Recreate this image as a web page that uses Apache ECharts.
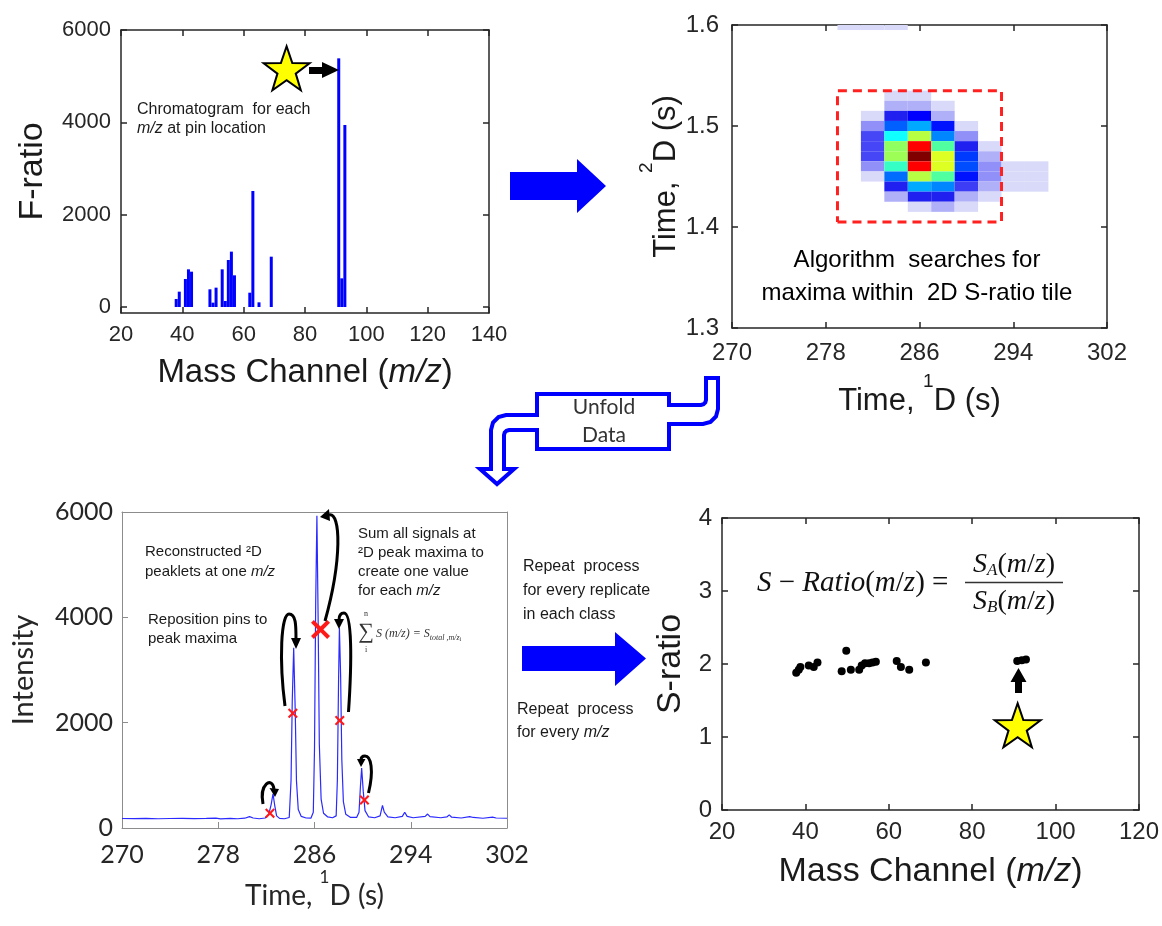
<!DOCTYPE html>
<html>
<head>
<meta charset="utf-8">
<script src="https://cdn.jsdelivr.net/npm/echarts@6/dist/echarts.min.js"></script>
<style>html,body{margin:0;padding:0;background:#fff}#main{width:1162px;height:926px}</style>
</head>
<body>
<div id="main"></div>
<script>
// --- data ---
// top left: F-ratio per mass channel
var fMz    = [38, 39, 41, 42, 43, 49, 50, 51, 53, 54, 55, 56, 57, 62, 63, 65, 69, 91, 92, 93];
var fRatio = [173, 332, 606, 816, 765, 383, 94, 419, 816, 130, 1018, 1199, 686, 310, 2513, 101, 1090, 5386, 621, 3942];
var starTop = [74, 5170];

// top right: 2D S-ratio tile (0 = empty cell)
var heatCols = [280, 282, 284, 286, 288, 290, 292, 294, 296];
var heatRows = [1.60, 1.53, 1.52, 1.51, 1.50, 1.49, 1.48, 1.47, 1.46, 1.45, 1.44, 1.43, 1.42];
var heatVals = [
  [0.03, 0.03, 0.03, 0,    0,    0,    0,    0,    0   ],
  [0,    0,    0.03, 0.03, 0,    0,    0,    0,    0   ],
  [0,    0,    0.10, 0.10, 0.03, 0,    0,    0,    0   ],
  [0,    0.03, 0.25, 0.30, 0.10, 0,    0,    0,    0   ],
  [0,    0.14, 0.35, 0.41, 0.31, 0.03, 0,    0,    0   ],
  [0,    0.21, 0.50, 0.63, 0.38, 0.14, 0,    0,    0   ],
  [0,    0.21, 0.60, 0.90, 0.55, 0.25, 0.03, 0,    0   ],
  [0,    0.21, 0.61, 1.00, 0.67, 0.33, 0.10, 0,    0   ],
  [0,    0.14, 0.53, 0.90, 0.67, 0.34, 0.14, 0.03, 0.03],
  [0,    0.03, 0.36, 0.63, 0.55, 0.31, 0.14, 0.03, 0.03],
  [0,    0,    0.25, 0.41, 0.38, 0.22, 0.10, 0.03, 0.03],
  [0,    0,    0.10, 0.25, 0.25, 0.10, 0.03, 0,    0   ],
  [0,    0,    0,    0.03, 0.10, 0.03, 0,    0,    0   ]
];
var tileT = [279, 293];
var tileTau = [1.405, 1.535];

// bottom left: unfolded trace at one m/z
var trace = [
  [270,180],[271,178],[272,182],[273,176],[274,180],[275,183],[276,178],[277,182],[277.8,186],[278.2,175],
  [279,182],[279.6,176],[280.2,186],[280.6,215],[280.9,190],[281.4,176],[281.9,190],[282.2,260],[282.4,450],
  [282.55,650],[282.7,420],[282.85,230],[283.1,182],[283.5,176],[283.9,200],[284.05,900],[284.15,2400],
  [284.27,3420],[284.4,2200],[284.5,900],[284.65,350],[284.9,220],[285.3,190],[285.7,186],[285.9,300],
  [286.0,1500],[286.1,4300],[286.2,5930],[286.3,4000],[286.4,1600],[286.55,550],[286.75,280],[287.1,210],
  [287.5,195],[287.8,230],[287.9,900],[288.0,2800],[288.07,3800],[288.17,2900],[288.27,1300],[288.4,500],
  [288.6,260],[289.0,200],[289.5,200],[289.7,300],[289.82,800],[289.92,1140],[290.05,700],[290.2,330],
  [290.5,210],[291.0,195],[291.45,230],[291.65,430],[291.8,300],[292.1,210],[292.7,195],[293.3,220],
  [293.5,300],[293.7,220],[294.2,195],[295.2,220],[295.4,265],[295.6,215],[296.5,195],[297.0,210],
  [297.2,250],[297.4,205],[298.2,190],[298.9,215],[299.05,235],[299.2,200],[300.0,185],[300.8,205],
  [300.9,220],[301.1,190],[302,185]
];
var pinT = [282.3, 284.2, 288.1, 290.15];
var pinI = [280, 2180, 2040, 530];
var maxPin = [286.5, 3770];

// bottom right: S-ratio per mass channel
var srMz  = [37.8, 38.4, 38.8, 40.8, 42.0, 42.9, 48.7, 49.8, 50.9, 52.9, 53.5, 54.3, 55.3, 56.1, 56.9, 61.9, 62.9, 64.9, 68.9, 90.8, 91.9, 92.9];
var srVal = [1.88, 1.92, 1.96, 1.98, 1.96, 2.02, 1.90, 2.18, 1.92, 1.92, 1.98, 2.01, 2.01, 2.02, 2.03, 2.04, 1.96, 1.92, 2.02, 2.04, 2.05, 2.06];
var starBottom = [90.9, 1.16];

// tick labels
var tlXTicks = [20, 40, 60, 80, 100, 120, 140];
var tlYTicks = [0, 2000, 4000, 6000];
var trXTicks = [270, 278, 286, 294, 302];
var trYTicks = [1.3, 1.4, 1.5, 1.6];
var blXTicks = [270, 278, 286, 294, 302];
var blYTicks = [0, 2000, 4000, 6000];
var brXTicks = [20, 40, 60, 80, 100, 120];
var brYTicks = [0, 1, 2, 3, 4];

var ARIAL = "'Liberation Sans', Arial, sans-serif";
var CAL = "Lato, 'Open Sans', sans-serif";
var SERIF = "'Liberation Serif', 'DejaVu Serif', serif";
var INK = '#262626';

var STAR = 'path://M50,2L61.8,36.2L97.6,36.6L68.9,58.1L79.4,92.4L50,71.8L20.6,92.4L31.1,58.1L2.4,36.6L38.2,36.2Z';
var CROSS = 'path://M0,3L3,0L10,7L17,0L20,3L13,10L20,17L17,20L10,13L3,20L0,17L7,10Z';

function plain(v) { return String(v); }

function ax(grid, pos, min, max, vals, o) {
  o = o || {};
  var col = o.color || INK;
  var lw = o.lw || 1.5;
  return {
    type: 'value', gridIndex: grid, position: pos, min: min, max: max,
    axisLine: { show: true, onZero: false, lineStyle: { color: col, width: lw } },
    axisTick: { show: o.ticks !== false, inside: true, length: 6, customValues: vals, lineStyle: { color: col, width: lw } },
    axisLabel: { show: !!o.label, customValues: vals, margin: o.margin || 10, color: INK,
      fontFamily: o.font || ARIAL, fontSize: o.size || 22, formatter: o.fmt || plain, showMinLabel: true, showMaxLabel: true },
    splitLine: { show: false },
    name: o.name || '', nameLocation: 'middle', nameGap: o.gap || 0, nameTextStyle: o.nts || {}
  };
}

function supName(font, size, color) {
  return {
    fontFamily: font, fontSize: size, color: color,
    rich: {
      m: { fontFamily: font, fontSize: size, color: color, lineHeight: size * 1.45, verticalAlign: 'bottom' },
      s: { fontFamily: font, fontSize: Math.round(size * 0.62), color: color, lineHeight: Math.round(size * 0.62), verticalAlign: 'top' }
    }
  };
}
function mzName(size) {
  return {
    fontFamily: ARIAL, fontSize: size, color: '#1a1a1a',
    rich: {
      a: { fontFamily: ARIAL, fontSize: size, color: '#1a1a1a' },
      i: { fontFamily: ARIAL, fontSize: size, color: '#1a1a1a', fontStyle: 'italic' }
    }
  };
}

function txt(x, y, text, size, o) {
  o = o || {};
  var st = {
    text: text, fontSize: size, fontFamily: o.font || ARIAL, fill: o.fill || '#1a1a1a',
    fontStyle: o.italic ? 'italic' : 'normal',
    align: o.align || 'left', textAlign: o.align || 'left',
    verticalAlign: 'middle', textVerticalAlign: 'middle'
  };
  if (o.rich) st.rich = o.rich;
  return { type: 'text', x: x, y: y, z: 100, style: st };
}

function curve(x1, y1, c1x, c1y, c2x, c2y, x2, y2) {
  return { type: 'bezierCurve', z: 100,
    shape: { x1: x1, y1: y1, cpx1: c1x, cpy1: c1y, cpx2: c2x, cpy2: c2y, x2: x2, y2: y2 },
    style: { stroke: '#000', lineWidth: 3, fill: null } };
}
function poly(points, fill, stroke, lw) {
  return { type: 'polygon', z: 100, shape: { points: points },
    style: { fill: fill, stroke: stroke || null, lineWidth: lw || 0 } };
}

// heat cells
var heatData = [];
heatRows.forEach(function (tau, r) {
  heatCols.forEach(function (t, c) {
    if (heatVals[r][c] > 0) heatData.push([t, tau, heatVals[r][c]]);
  });
});

var mzRich = function (s) {
  return {
    a: { fontFamily: ARIAL, fontSize: s, fill: '#1a1a1a' },
    i: { fontFamily: ARIAL, fontSize: s, fill: '#1a1a1a', fontStyle: 'italic' }
  };
};
var mathRich = function (s) {
  return {
    i: { fontFamily: SERIF, fontSize: s, fontStyle: 'italic', fill: '#111' },
    r: { fontFamily: SERIF, fontSize: s, fill: '#111' },
    b: { fontFamily: SERIF, fontSize: Math.round(s * 0.62), fontStyle: 'italic', fill: '#111', verticalAlign: 'bottom', lineHeight: s }
  };
};

var chart = echarts.init(document.getElementById('main'));
var option = {
  animation: false,
  backgroundColor: '#ffffff',
  grid: [
    { left: 121, top: 30, width: 368, height: 283 },
    { left: 732, top: 25, width: 375, height: 303 },
    { left: 122, top: 512, width: 385, height: 316 },
    { left: 722, top: 518, width: 418, height: 292 }
  ],
  xAxis: [
    ax(0, 'bottom', 20, 140, tlXTicks, { label: true, size: 22, margin: 11, gap: 43,
      name: '{a|Mass Channel (}{i|m/z}{a|)}', nts: mzName(33) }),
    ax(0, 'top', 20, 140, tlXTicks),
    ax(1, 'bottom', 270, 302, trXTicks, { label: true, size: 24, margin: 13, gap: 44,
      name: '{m|Time, }{s|1}{m|D (s)}', nts: supName(ARIAL, 31, '#1a1a1a') }),
    ax(1, 'top', 270, 302, trXTicks),
    ax(2, 'bottom', 270, 302, blXTicks, { label: true, font: CAL, size: 25, margin: 14, gap: 41, color: '#8c8c8c', lw: 1,
      name: '{m|Time, }{s|1}{m|D (s)}', nts: supName(CAL, 28, '#262626') }),
    ax(2, 'top', 270, 302, blXTicks, { ticks: false, color: '#8c8c8c', lw: 1 }),
    ax(3, 'bottom', 20, 120, brXTicks, { label: true, size: 24, margin: 10, gap: 45,
      name: '{a|Mass Channel (}{i|m/z}{a|)}', nts: mzName(34) }),
    ax(3, 'top', 20, 120, brXTicks)
  ],
  yAxis: [
    ax(0, 'left', -130, 6000, tlYTicks, { label: true, size: 22, margin: 10, gap: 71,
      name: 'F-ratio', nts: { fontFamily: ARIAL, fontSize: 34, color: '#1a1a1a' } }),
    ax(0, 'right', -130, 6000, tlYTicks),
    ax(1, 'left', 1.3, 1.6, trYTicks, { label: true, size: 24, margin: 13, gap: 38,
      fmt: function (v) { return v.toFixed(1); },
      name: '{m|Time, }{s|2}{m|D (s)}', nts: supName(ARIAL, 31, '#1a1a1a') }),
    ax(1, 'right', 1.3, 1.6, trYTicks),
    ax(2, 'left', 0, 6000, blYTicks, { label: true, font: CAL, size: 25, margin: 9, gap: 84, color: '#8c8c8c', lw: 1,
      name: 'Intensity', nts: { fontFamily: CAL, fontSize: 29, color: '#262626' } }),
    ax(2, 'right', 0, 6000, blYTicks, { ticks: false, color: '#8c8c8c', lw: 1 }),
    ax(3, 'left', 0, 4, brYTicks, { label: true, size: 24, margin: 10, gap: 34,
      name: 'S-ratio', nts: { fontFamily: ARIAL, fontSize: 34, color: '#1a1a1a' } }),
    ax(3, 'right', 0, 4, brYTicks)
  ],
  visualMap: {
    show: false, type: 'continuous', seriesIndex: 2, dimension: 2, min: 0, max: 1,
    inRange: { color: ['#e8e8fa', '#cfcff8', '#b0b0f8', '#8888f8', '#5050f8', '#2020f0', '#0000ff', '#0060ff',
      '#00a0ff', '#00d0ff', '#10ffff', '#50ffa0', '#90ff60', '#d0ff30', '#f0ff10', '#ffc000', '#ff8000',
      '#ff4000', '#ff0000', '#c00000', '#800000'] }
  },
  series: [
    { type: 'bar', xAxisIndex: 0, yAxisIndex: 0, barWidth: 3, silent: true,
      itemStyle: { color: '#0000ff' },
      data: fMz.map(function (m, i) { return [m, fRatio[i]]; }) },
    { type: 'scatter', xAxisIndex: 0, yAxisIndex: 0, symbol: STAR, symbolSize: [46, 44], silent: true,
      itemStyle: { color: '#ffff00', borderColor: '#000', borderWidth: 2, opacity: 1 },
      data: [starTop] },
    { type: 'custom', xAxisIndex: 2, yAxisIndex: 2, silent: true,
      renderItem: function (params, api) {
        var t = api.value(0), tau = api.value(1);
        var p0 = api.coord([t - 1, tau + 0.005]);
        var p1 = api.coord([t + 1, tau - 0.005]);
        var cs = params.coordSys;
        var rect = echarts.graphic.clipRectByRect(
          { x: p0[0], y: p0[1], width: p1[0] - p0[0], height: p1[1] - p0[1] },
          { x: cs.x, y: cs.y, width: cs.width, height: cs.height });
        return rect && { type: 'rect', shape: rect, style: { fill: api.visual('color') } };
      },
      data: heatData },
    { type: 'line', xAxisIndex: 2, yAxisIndex: 2, showSymbol: false, silent: true, z: 5,
      lineStyle: { color: '#ff2020', width: 3, type: [9, 6] },
      data: [[tileT[0], tileTau[0]], [tileT[1], tileTau[0]], [tileT[1], tileTau[1]], [tileT[0], tileTau[1]], [tileT[0], tileTau[0]]] },
    { type: 'line', xAxisIndex: 4, yAxisIndex: 4, showSymbol: false, silent: true,
      lineStyle: { color: '#2a2aff', width: 1.2 }, data: trace },
    { type: 'scatter', xAxisIndex: 4, yAxisIndex: 4, symbol: CROSS, symbolSize: 10, silent: true, z: 5,
      itemStyle: { color: '#ff1a1a', opacity: 1 },
      data: pinT.map(function (t, i) { return [t, pinI[i]]; }) },
    { type: 'scatter', xAxisIndex: 4, yAxisIndex: 4, symbol: CROSS, symbolSize: 19, silent: true, z: 5,
      itemStyle: { color: '#ff1a1a', opacity: 1 }, data: [maxPin] },
    { type: 'scatter', xAxisIndex: 6, yAxisIndex: 6, symbol: 'circle', symbolSize: 8, silent: true,
      itemStyle: { color: '#000', opacity: 1 },
      data: srMz.map(function (m, i) { return [m, srVal[i]]; }) },
    { type: 'scatter', xAxisIndex: 6, yAxisIndex: 6, symbol: STAR, symbolSize: [46, 44], silent: true,
      itemStyle: { color: '#ffff00', borderColor: '#000', borderWidth: 2, opacity: 1 },
      data: [starBottom] }
  ],
  graphic: [
    // top-left annotation
    poly([[309, 67], [322, 67], [322, 62], [339, 70], [322, 78], [322, 74], [309, 74]], '#000'),
    txt(137, 110, 'Chromatogram  for each', 16),
    txt(137, 129, '{i|m/z}{a| at pin location}', 16, { rich: mzRich(16) }),
    // big blue arrows
    poly([[510, 172], [577, 172], [577, 159], [606, 186], [577, 213], [577, 200], [510, 200]], '#0000ff'),
    poly([[522, 646], [615, 646], [615, 632], [646, 658.5], [615, 686], [615, 671], [522, 671]], '#0000ff'),
    // top-right annotation
    txt(917, 260, 'Algorithm  searches for', 24, { align: 'center', fill: '#000' }),
    txt(917, 293, 'maxima within  2D S-ratio tile', 24, { align: 'center', fill: '#000' }),
    // unfold data arrow
    poly([[706, 378], [718, 378], [718, 409], [716, 416.5], [710.5, 422], [703, 424], [669, 424], [669, 449],
      [537, 449], [537, 430], [509, 430], [506.5, 430.7], [504.7, 432.5], [504, 435], [504, 469], [514, 469],
      [497, 484], [480, 469], [491, 469], [491, 430], [493, 422.5], [498.5, 417], [506, 415], [537, 415],
      [537, 394], [669, 394], [669, 405], [701, 405], [703.5, 404.3], [705.3, 402.5], [706, 400]],
      '#ffffff', '#0000ff', 4),
    txt(604, 407, 'Unfold', 21, { font: CAL, align: 'center', fill: '#333' }),
    txt(604, 435, 'Data', 21, { font: CAL, align: 'center', fill: '#333' }),
    // bottom-left annotations
    txt(145, 552, 'Reconstructed \u00b2D', 15),
    txt(145, 572, '{a|peaklets at one }{i|m/z}', 15, { rich: mzRich(15) }),
    txt(148, 620, 'Reposition pins to', 15),
    txt(148, 639, 'peak maxima', 15),
    txt(358, 534, 'Sum all signals at', 15),
    txt(358, 553, '\u00b2D peak maxima to', 15),
    txt(358, 572, 'create one value', 15),
    txt(358, 591, '{a|for each }{i|m/z}', 15, { rich: mzRich(15) }),
    txt(366, 632, '\u2211', 22, { font: SERIF, align: 'center', fill: '#333' }),
    txt(366, 614, 'n', 8, { font: SERIF, align: 'center', fill: '#333' }),
    txt(366, 650, 'i', 8, { font: SERIF, align: 'center', fill: '#333' }),
    txt(376, 634, '{a|S (m/z) = S}{b|total ,m/z}{c|i}', 12, { rich: {
      a: { fontFamily: SERIF, fontSize: 12, fontStyle: 'italic', fill: '#333' },
      b: { fontFamily: SERIF, fontSize: 8, fontStyle: 'italic', fill: '#333', verticalAlign: 'bottom', lineHeight: 14 },
      c: { fontFamily: SERIF, fontSize: 6, fill: '#333', verticalAlign: 'bottom', lineHeight: 16 } } }),
    // curved pin arrows
    curve(263, 804, 259, 784, 272, 776, 274, 789),
    poly([[269.5, 788], [279, 789], [275, 797]], '#000'),
    curve(285, 706, 279, 660, 281, 614, 289, 614),
    curve(289, 614, 296, 614, 296, 625, 296, 640),
    poly([[291, 638], [301, 638], [296, 649]], '#000'),
    curve(325, 621, 342, 560, 341, 512, 329, 515),
    poly([[329, 509], [330, 521], [320, 517]], '#000'),
    curve(348.5, 712, 352, 660, 352, 613, 344, 613),
    curve(344, 613, 340, 613, 339, 616, 339, 620),
    poly([[334, 619], [344, 619], [339, 629]], '#000'),
    curve(368.5, 793, 374, 770, 371, 756, 365, 756),
    curve(365, 756, 362, 756, 361, 758, 361, 760),
    poly([[357, 759], [365.5, 759], [361, 767]], '#000'),
    // middle texts
    txt(523, 567, 'Repeat  process', 16),
    txt(523, 591, 'for every replicate', 16),
    txt(523, 615, 'in each class', 16),
    txt(517, 710, 'Repeat  process', 16),
    txt(517, 733, '{a|for every }{i|m/z}', 16, { rich: mzRich(16) }),
    // bottom-right formula and arrow
    txt(757, 583, '{i|S}{r| \u2212 }{i|Ratio}{r|(}{i|m}{r|/}{i|z}{r|) =}', 29, { rich: mathRich(29) }),
    txt(1014, 565, '{i|S}{b|A}{r|(}{i|m}{r|/}{i|z}{r|)}', 28, { align: 'center', rich: mathRich(28) }),
    txt(1014, 602, '{i|S}{b|B}{r|(}{i|m}{r|/}{i|z}{r|)}', 28, { align: 'center', rich: mathRich(28) }),
    { type: 'line', z: 100, shape: { x1: 965, y1: 582.5, x2: 1063, y2: 582.5 }, style: { stroke: '#333', lineWidth: 1.5 } },
    poly([[1015, 693], [1015, 682], [1010.5, 682], [1018.5, 668], [1026.5, 682], [1022, 682], [1022, 693]], '#000')
  ]
};
chart.setOption(option);
</script>
</body>
</html>
